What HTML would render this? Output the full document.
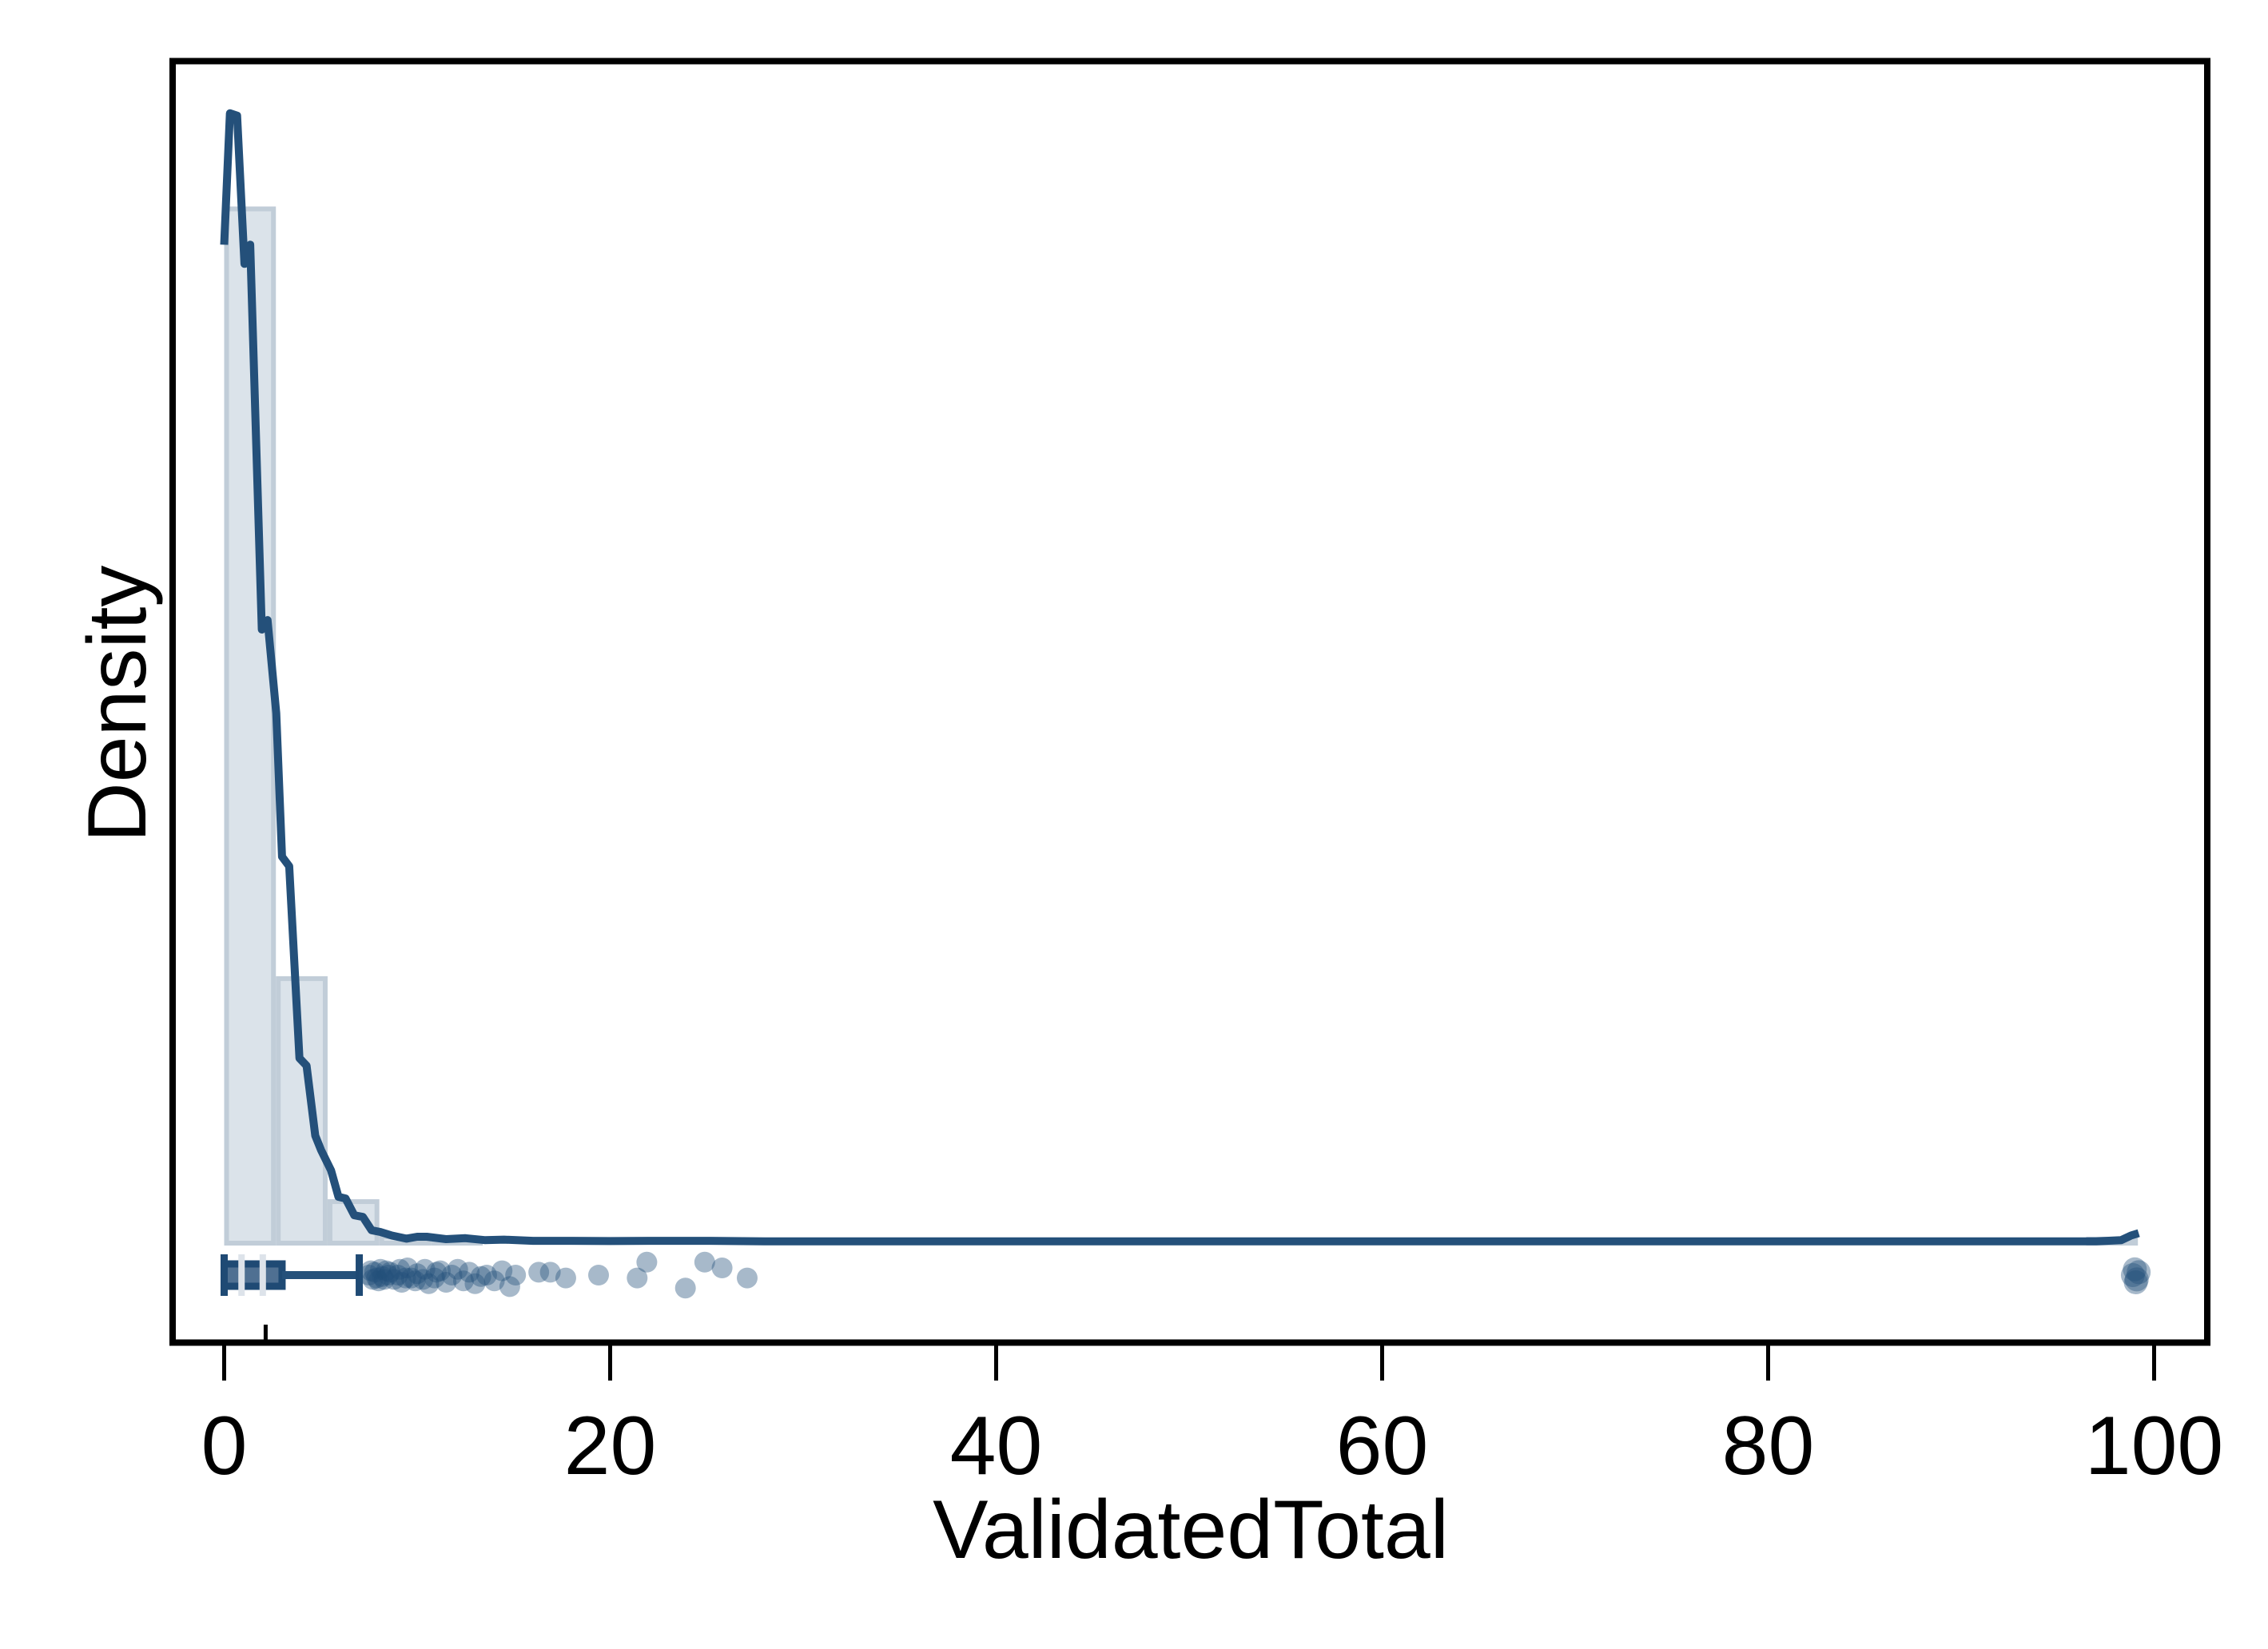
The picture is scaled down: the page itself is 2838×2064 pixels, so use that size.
<!DOCTYPE html>
<html><head><meta charset="utf-8"><style>
html,body{margin:0;padding:0;background:#fff;}
svg{display:block;}
text{font-family:"Liberation Sans",Arial,sans-serif;fill:#000;}
</style></head><body>
<svg id="chart" width="2838" height="2064" viewBox="0 0 2838 2064" xmlns="http://www.w3.org/2000/svg">
<rect x="0" y="0" width="2838" height="2064" fill="#fff"/>
<g id="hist"></g>
<g id="kde"></g>
<g id="box"></g>
<g id="pts"></g>
<rect x="216" y="76.5" width="2546" height="1604" fill="none" stroke="#000" stroke-width="8"/>
<g id="axis"></g>
<text x="1490" y="1950" font-size="104" text-anchor="middle">ValidatedTotal</text>
<text x="0" y="0" font-size="104" text-anchor="middle" transform="translate(182,881) rotate(-90)">Density</text>
</svg>
<script>
const binWidth = 2.68;
const binStarts = [0, 2.68, 5.36, 8.04, 10.72, 96.48];
const binDensity = [0.433, 0.111, 0.0177, 0.003, 0.001, 0.002];
const kdeX = [0,0.3,0.67,1.05,1.35,1.95,2.25,2.7,3.0,3.37,3.9,4.27,4.72,5.02,5.54,5.92,6.29,6.74,7.19,7.64,8.09,8.69,9.44,10.0,10.5,11.5,12.5,13.5,14.5,16,18,20,22,25,28,30,40,60,80,97,98.3,98.8,99.2];
const kdeY = [0.417,0.472,0.471,0.409,0.417,0.256,0.260,0.221,0.161,0.157,0.0767,0.0736,0.0443,0.0383,0.0297,0.0187,0.018,0.011,0.0103,0.0047,0.004,0.0025,0.0012,0.002,0.002,0.001,0.0014,0.0006,0.0008,0.0003,0.0003,0.0002,0.0003,0.0003,0.0001,0.0001,0.0001,0.0001,0.0001,0.0001,0.0006,0.0025,0.0035];
const boxStats = {lowerWhisker:0, q1:0, median:2.15, q3:3.0, upperWhisker:7.0};
const lightMarks = [0.9, 2.0];
const outlierValues = [7.5,7.6,7.7,7.8,7.9,8.0,8.1,8.2,8.3,8.4,8.5,8.6,8.8,9.0,9.1,9.2,9.4,9.5,9.7,9.9,10,10.3,10.4,10.6,10.9,11.0,11.2,11.5,11.8,12.1,12.4,12.7,13,13.3,13.6,14,14.4,14.8,15.1,16.3,16.9,17.7,19.4,21.4,21.9,23.9,24.9,25.8,27.1,98.9,99.0,99.05,99.1,99.2];
const outlierJitter = [0,-3,3,-2,2,4,-4,1,3,-3,0,-2,3,0,-4,5,2,-5,2,4,-1,3,-4,6,2,-2,-3,5,0,-4,4,-2,6,1,0,4,-3,8,0,-2,-2,2,0,2,-9,9,-9,-5,2,0,-4,5,3,-2];
const xTicks = [0,20,40,60,80,100];
const xTickLabels = ["0","20","40","60","80","100"];

const NS = "http://www.w3.org/2000/svg";
const xS = v => 280.5 + v * 24.15;
const yS = d => 1554 - d * 2992;
const boxY = 1596;
function mk(tag, parent, attrs){const e=document.createElementNS(NS,tag);for(const k in attrs)e.setAttribute(k,attrs[k]);parent.appendChild(e);return e;}

const hist = document.getElementById('hist');
binStarts.forEach((s,i)=>{
  const x0=xS(s), x1=xS(s+binWidth), y=yS(binDensity[i]);
  const r=mk('rect',hist,{x:x0+3,y:y+3,width:Math.max(0,x1-x0-6),height:Math.max(0,1556-y-3),fill:'#dbe3ea',stroke:'#c1cdd8','stroke-width':6});
  
  
});

const kde = document.getElementById('kde');
const pth = mk('path',kde,{d:kdeX.map((x,i)=>(i?'L':'M')+xS(x).toFixed(1)+','+yS(kdeY[i]).toFixed(1)).join(' '),fill:'none',stroke:'#24507a','stroke-width':10,'stroke-linejoin':'round'});



const box = document.getElementById('box');
let e;
e=mk('rect',box,{x:xS(boxStats.q1),y:boxY-14,width:xS(boxStats.q3)-xS(boxStats.q1),height:28,fill:'#4f7092',stroke:'#1f4a74','stroke-width':9});


e=mk('line',box,{x1:xS(boxStats.q3),x2:xS(boxStats.upperWhisker),y1:boxY,y2:boxY,stroke:'#24507a','stroke-width':10});


e=mk('line',box,{x1:xS(boxStats.lowerWhisker),x2:xS(boxStats.lowerWhisker),y1:boxY-26,y2:boxY+26,stroke:'#1f4a74','stroke-width':9});


e=mk('line',box,{x1:xS(boxStats.upperWhisker),x2:xS(boxStats.upperWhisker),y1:boxY-26,y2:boxY+26,stroke:'#1f4a74','stroke-width':9});


lightMarks.forEach(v=>{
  const l=mk('line',box,{x1:xS(v),x2:xS(v),y1:boxY-26,y2:boxY+26,stroke:'#dde3ea','stroke-width':8});
  
  
});

const pts = document.getElementById('pts');
outlierValues.forEach((v,i)=>{
  const j = outlierJitter[i] || 0;
  const c=mk('circle',pts,{cx:xS(v),cy:boxY+j*1.8,r:v>95?15:13,fill:'#24507a','fill-opacity':0.4});
  
  
});

const axis = document.getElementById('axis');
xTicks.forEach((t,i)=>{
  const l=mk('line',axis,{x1:xS(t),x2:xS(t),y1:1684,y2:1728,stroke:'#000','stroke-width':5});
  
  
  const tx=mk('text',axis,{x:xS(t),y:1845,'font-size':104,'text-anchor':'middle'});
  tx.textContent=xTickLabels[i];
  
  
});
e=mk('line',axis,{x1:xS(boxStats.median),x2:xS(boxStats.median),y1:1658,y2:1678,stroke:'#000','stroke-width':5});


</script>
</body></html>
